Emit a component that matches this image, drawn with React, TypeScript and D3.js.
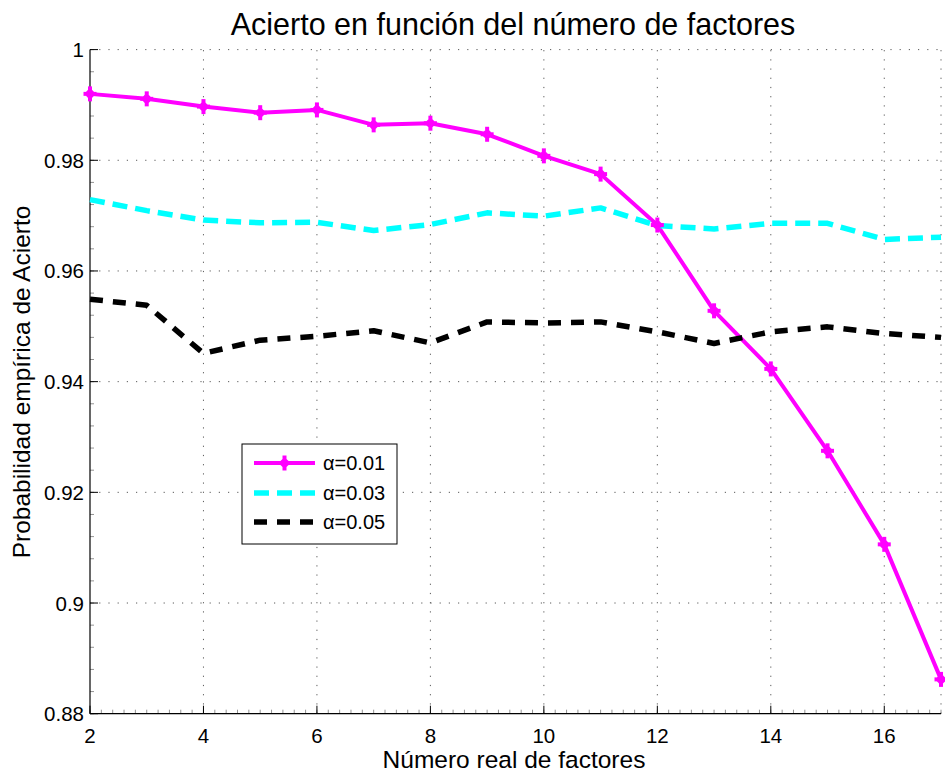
import React from "react";
import * as d3 from "d3";

const factores = [2, 3, 4, 5, 6, 7, 8, 9, 10, 11, 12, 13, 14, 15, 16, 17];
const alpha001 = [0.9920, 0.9911, 0.9897, 0.9886, 0.9891, 0.9864, 0.9867, 0.9847, 0.9808, 0.9775, 0.9683, 0.9528, 0.9423, 0.9275, 0.9106, 0.8862];
const alpha003 = [0.9729, 0.9709, 0.9692, 0.9687, 0.9688, 0.9673, 0.9684, 0.9705, 0.9699, 0.9714, 0.9682, 0.9676, 0.9686, 0.9686, 0.9657, 0.9661];
const alpha005 = [0.9549, 0.9538, 0.9451, 0.9475, 0.9482, 0.9492, 0.9470, 0.9508, 0.9506, 0.9508, 0.9490, 0.9469, 0.9490, 0.9499, 0.9487, 0.9480];
const xTicks = [2, 4, 6, 8, 10, 12, 14, 16];
const yTicks = [0.88, 0.9, 0.92, 0.94, 0.96, 0.98, 1];
const legendLabels = ["α=0.01", "α=0.03", "α=0.05"];

const W = 945;
const H = 774;
const font = "'Liberation Sans', Arial, Helvetica, sans-serif";

function Marker({ x, y }: { x: number; y: number }) {
  return (
    <g transform={`translate(${x},${y})`} stroke="#ff00ff" strokeLinecap="butt">
      <line x1={-6.5} y1={0} x2={6.5} y2={0} strokeWidth={4} />
      <line x1={0} y1={-7.5} x2={0} y2={7.5} strokeWidth={4} />
      <line x1={-3} y1={-3} x2={3} y2={3} strokeWidth={3} />
      <line x1={-3} y1={3} x2={3} y2={-3} strokeWidth={3} />
    </g>
  );
}

export default function App() {
  const x = d3.scaleLinear().domain([2, 17]).range([90, 941]);
  const y = d3.scaleLinear().domain([0.88, 1]).range([713.7, 49.6]);
  const [x0, x1] = x.range();
  const [y0, y1] = y.range();

  const line = d3
    .line<[number, number]>()
    .x((d) => x(d[0]))
    .y((d) => y(d[1]));
  const pts = (vals: number[]) => factores.map((f, i) => [f, vals[i]] as [number, number]);

  const xMinor = d3.range(2, 17.001, 0.2);
  const yMinor = d3.range(0.88, 1.0001, 0.004);

  const series = [
    { vals: alpha001, color: "#ff00ff", width: 4, dash: undefined as string | undefined, marker: true },
    { vals: alpha003, color: "#00ffff", width: 5.5, dash: "15,8", marker: false },
    { vals: alpha005, color: "#000000", width: 5.5, dash: "13,10", marker: false },
  ];

  const legX = 242;
  const legY = 444;
  const rowY = [463, 493, 522];

  return (
    <svg width={W} height={H} style={{ position: "absolute", left: 0, top: 0, background: "#fff" }} fontFamily={font}>
      <rect width={W} height={H} fill="#fff" />

      {/* grid */}
      <g stroke="#333" strokeWidth={1} strokeDasharray="1.2,8" opacity={0.8}>
        {xTicks.concat([17]).slice(1).map((t) => (
          <line key={`gx${t}`} x1={x(t)} x2={x(t)} y1={y0} y2={y1} />
        ))}
        {yTicks.slice(1).map((t) => (
          <line key={`gy${t}`} x1={x0} x2={x1} y1={y(t)} y2={y(t)} />
        ))}
      </g>

      {/* minor ticks */}
      <g stroke="#777" strokeWidth={0.8}>
        {xMinor.map((t, i) => (
          <line key={`mx${i}`} x1={x(t)} x2={x(t)} y1={y0} y2={y0 - 4} />
        ))}
        {yMinor.map((t, i) => (
          <line key={`my${i}`} x1={x0} x2={x0 + 4} y1={y(t)} y2={y(t)} />
        ))}
      </g>

      {/* major ticks */}
      <g stroke="#000" strokeWidth={1}>
        {xTicks.map((t) => (
          <line key={`tx${t}`} x1={x(t)} x2={x(t)} y1={y0} y2={y0 - 8} />
        ))}
        {yTicks.map((t) => (
          <line key={`ty${t}`} x1={x0} x2={x0 + 8} y1={y(t)} y2={y(t)} />
        ))}
      </g>

      {/* axes */}
      <line x1={x0} x2={x0} y1={y0} y2={y1} stroke="#000" strokeWidth={1.2} />
      <line x1={x0} x2={x1} y1={y0} y2={y0} stroke="#000" strokeWidth={1.2} />

      {/* series */}
      {series.map((s, i) => (
        <path
          key={`s${i}`}
          d={line(pts(s.vals)) || ""}
          fill="none"
          stroke={s.color}
          strokeWidth={s.width}
          strokeDasharray={s.dash}
          strokeLinejoin="round"
        />
      ))}
      {pts(alpha001).map((p, i) => (
        <Marker key={`m${i}`} x={x(p[0])} y={y(p[1])} />
      ))}

      {/* tick labels */}
      <g fontSize={20.5} fill="#000">
        {xTicks.map((t) => (
          <text key={`lx${t}`} x={x(t)} y={743} textAnchor="middle">
            {t}
          </text>
        ))}
        {yTicks.map((t) => (
          <text key={`ly${t}`} x={84} y={y(t) + 7.5} textAnchor="end">
            {String(t)}
          </text>
        ))}
      </g>

      {/* titles */}
      <text x={513} y={35} textAnchor="middle" fontSize={30.5}>
        Acierto en función del número de factores
      </text>
      <text x={514} y={768} textAnchor="middle" fontSize={24.5}>
        Número real de factores
      </text>
      <text transform="translate(30,382) rotate(-90)" textAnchor="middle" fontSize={24.5}>
        Probabilidad empírica de Acierto
      </text>

      {/* legend */}
      <rect x={legX} y={legY} width={155} height={100} fill="#fff" stroke="#000" strokeWidth={1} />
      {series.map((s, i) => (
        <g key={`lg${i}`}>
          <line
            x1={254}
            x2={315}
            y1={rowY[i]}
            y2={rowY[i]}
            stroke={s.color}
            strokeWidth={s.width}
            strokeDasharray={s.dash}
          />
          {s.marker && <Marker x={284.5} y={rowY[i]} />}
          <text x={323} y={rowY[i] + 7} fontSize={20}>
            {legendLabels[i]}
          </text>
        </g>
      ))}
    </svg>
  );
}
